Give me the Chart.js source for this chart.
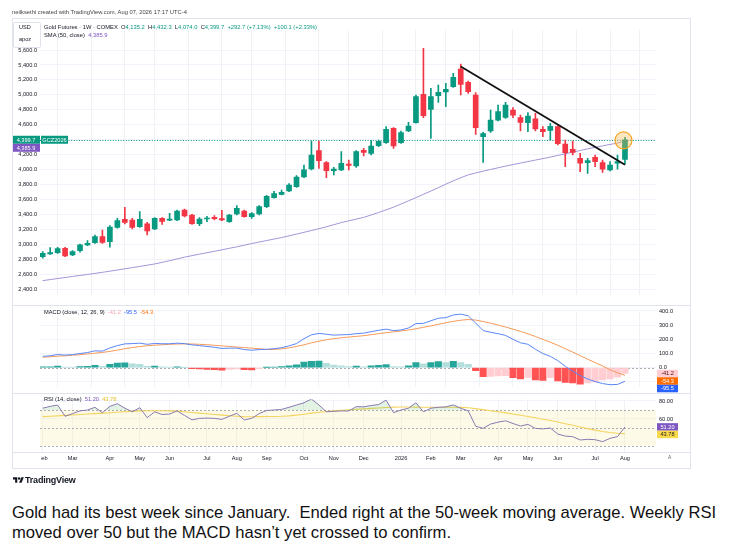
<!DOCTYPE html>
<html>
<head>
<meta charset="utf-8">
<script src="https://cdn.jsdelivr.net/npm/chart.js@4.4.1/dist/chart.umd.min.js"></script>
<style>
html,body{margin:0;padding:0;background:#fff}
body{width:753px;height:558px;position:relative;overflow:hidden;font-family:"Liberation Sans",Arial,Helvetica,sans-serif}
.t{position:absolute;white-space:pre;line-height:1}
canvas{position:absolute;left:0}
.sep{position:absolute;left:12px;width:678px;height:1px;background:#e0e3eb}
.g{color:#089981}
.k{color:#131722}
</style>
</head>
<body>
<canvas id="cp" width="753" height="285" style="top:20px"></canvas>
<canvas id="cm" width="753" height="88" style="top:305px"></canvas>
<canvas id="cr" width="753" height="75" style="top:393px"></canvas>

<div style="position:absolute;left:12px;top:18px;width:677px;height:449px;border:1px solid #e0e3eb;pointer-events:none"></div>
<div class="sep" style="top:305px"></div>
<div class="sep" style="top:393px"></div>
<div class="sep" style="top:452px"></div>
<div style="position:absolute;left:13px;top:453px;width:28px;height:12px;background:#fff"></div>

<div class="t" style="left:12px;top:10px;font-size:5.8px;color:#444">neilksethi created with TradingView.com, Aug 07, 2026 17:17 UTC-4</div>
<div style="position:absolute;left:13px;top:22px;width:26px;height:24px;border:1px solid #e0e3eb;border-radius:2px;background:#fff"></div>
<div class="t k" style="left:19px;top:25px;font-size:5.6px">USD</div>
<div class="t k" style="left:19px;top:37px;font-size:5.6px">apoz</div>
<div id="lg1" class="t k" style="left:44px;top:25px;font-size:5.8px"></div>
<div id="lg2" class="t k" style="left:44px;top:32.5px;font-size:5.8px"></div>
<div id="lg3" class="t k" style="left:44px;top:309.5px;font-size:5.7px"></div>
<div id="lg4" class="t k" style="left:44px;top:396.5px;font-size:5.7px"></div>
<div class="t" style="left:668px;top:455px;font-size:5px;color:#666">A</div>

<svg style="position:absolute;left:13px;top:476px" width="11" height="8" viewBox="0 0 36 26"><path d="M14 22H7V11H0V4h14z" fill="#131722"/><circle cx="20" cy="8" r="4" fill="#131722"/><path d="M28 22h-8l7.5-18h8z" fill="#131722"/></svg>
<div class="t" style="left:25px;top:475.5px;font-size:9px;font-weight:bold;color:#131722;letter-spacing:-0.2px">TradingView</div>

<div class="t" style="left:12px;top:502.5px;font-size:16.6px;line-height:20.5px;color:#111">Gold had its best week since January.  Ended right at the 50-week moving average. Weekly RSI
moved over 50 but the MACD hasn’t yet crossed to confirm.</div>

<script>
// ---------------- DATA ----------------
const open  = [2837,2872,2890,2948,2859,2917,2993,3024,3104,3037, 3229,3336,3327,3238,3274,3207,3349,3323,3327,3461, 3394,3278,3340,3363,3345,3305,3407,3447,3372,3407, 3505,3626,3670,3715,3773,3902,4009,4254,4094,3987, 3996,4076,4049,4258,4218,4321,4361,4553,4361,4517, 4628,5007,4807,4989,5039,5110,5346,5168,4998,4441, 4517,4660,4700,4798,4695,4628,4678,4539,4526,4575, 4343,4272,4151,4094,4165,4094,3996,4085,4135.2];
const high  = [2904,2957,2962,2962,2917,3006,3051,3126,3193,3251, 3349,3496,3349,3438,3296,3358,3358,3416,3461,3474, 3403,3358,3376,3385,3456,3403,3519,3461,3425,3519, 3657,3710,3728,3813,3920,4062,4383,4383,4107,4031, 4241,4129,4254,4285,4388,4397,4575,4562,4517,4633, 4998,5622,5087,5132,5154,5288,5413,5186,5030,4499, 4798,4865,4900,4829,4731,4762,4753,4575,4619,4588, 4397,4383,4218,4151,4196,4129,4107,4196,4432.3];
const low   = [2815,2868,2881,2837,2850,2895,2984,3015,3015,2962, 3216,3274,3207,3229,3126,3198,3269,3318,3318,3367, 3269,3251,3305,3327,3318,3296,3394,3363,3349,3394, 3492,3617,3661,3706,3764,3893,3996,4018,3893,3929, 3987,3996,4031,4183,4196,4308,4352,4285,4352,4508, 4620,4695,4419,4900,4842,5101,4998,5021,4472,4098, 4499,4651,4686,4695,4517,4508,4517,4441,4397,4330, 4040,4196,3973,3951,4040,3964,3982,4005,4074.0];
const close = [2881,2890,2944,2846,2904,2993,3015,3104,3028,3233, 3318,3296,3229,3336,3180,3349,3309,3340,3447,3381, 3278,3340,3354,3345,3327,3394,3483,3372,3412,3505, 3643,3679,3697,3795,3902,3996,4196,4120,3987,4009, 4085,4058,4241,4232,4316,4379,4539,4316,4495,4584, 4976,4722,4976,5034,5074,5234,5141,5043,4562,4481, 4664,4776,4865,4727,4633,4718,4544,4508,4580,4348, 4227,4232,4085,4120,4107,4005,4062,4107,4399.7];
const sma50 = [2516,2530,2544,2558,2572,2585,2599,2613,2627,2642, 2658,2674,2690,2706,2722,2739,2760,2783,2806,2830, 2850,2870,2889,2908,2928,2948,2968,2990,3012,3032, 3052,3072,3092,3115,3138,3162,3186,3210,3236,3264, 3292,3316,3338,3362,3394,3428,3462,3498,3540,3583, 3626,3670,3714,3760,3806,3850,3892,3930,3956,3980, 4003,4025,4047,4068,4088,4108,4128,4148,4168,4190, 4212,4234,4256,4278,4298,4318,4337,4355,4385.9];

const macdLine   = [80,84,93,89,92,100,107,119,117,139, 156,168,170,173,165,171,169,169,173,170, 161,156,150,144,136,138,138,128,123,128, 130,134,141,154,170,205,232,242,236,230, 232,234,240,244,254,264,272,262,266,280, 311,313,331,349,353,372,378,366,315,262, 250,240,228,200,176,165,130,100,80,50, 10,-25,-55,-80,-98,-112,-120,-118,-95.5];
const signalLine = [74,77,81,84,88,92,97,102,108,115, 124,134,142,149,155,159,162,165,167,168, 167,165,162,158,154,150,146,142,138,134, 128,129,133,140,150,162,175,187,197,205, 211,216,221,226,233,240,247,253,259,266, 275,285,295,306,317,327,335,340,336,326, 314,301,287,272,256,239,220,200,180,158, 134,110,85,60,36,12,-14,-36,-54.3];
const macdHist   = [6,7,12,5,4,8,10,17,9,24, 32,34,28,24,10,12,7,4,6,2, -6,-9,-12,-14,-18,-12,-8,-14,-15,-6, 2,5,8,14,20,40,45,46,30,18, 14,8,12,6,14,16,22,8,6,14, 36,28,36,43,36,45,36,24,-21,-64, -62,-58,-56,-70,-80,-68,-86,-90,-70,-94, -104,-108,-116,-108,-100,-86,-80,-66,-41.2];

const rsi   = [72,74,75.5,63,66,69,70,73,67,74, 77,72,68,72.6,61.5,68,65,65.5,69,64, 59,60.7,61,60.7,59.6,63,66.3,59,60.7,66, 69.5,70,70.7,73,75.6,78,82.2,75.6,68,68.5, 69,68.9,73.7,73.5,75,76,81,67,70,72, 78,68,72,73,73.5,75.6,72,69,52,49.6, 54.4,56.5,58,55,52.2,54,49.6,49,50,43.3, 41,40.4,36.7,37.4,37,34.8,38.5,40.4,51.2];
const rsiMA = [62.6,63,63.5,64,64.5,65,65.5,66,66.5,67, 67.5,68,68.5,69,69.2,69.2,69.2,69,68.7,68, 67.3,66.5,65.8,65,64.3,63.6,63,62.6,62.5,62.6, 62.7,62.8,63,63.5,64.3,65.3,66.5,67.5,68.3,69, 69.6,70.2,70.8,71.3,71.8,72.3,72.8,73.2,73.4,73.3, 73.2,73.1,73,73,73,73,72.9,72.5,71.5,70.4, 69.2,68,66.8,65.5,64.2,62.8,61.3,59.8,58.3,56.6, 54.8,53,51.1,49.3,47.6,46.2,45,44.2,43.78];

const monthTickIdx    = [0,4,9,13,17,22,26,30,35,39,43,48,52,56,61,65,69,74,78];
const monthTickLabels = ['Feb','Mar','Apr','May','Jun','Jul','Aug','Sep','Oct','Nov','Dec','2026','Feb','Mar','Apr','May','Jun','Jul','Aug'];
const priceTicks = [2400,2600,2800,3000,3200,3400,3600,3800,4000,4200,4400,4600,4800,5000,5200,5400,5600];
const macdTicks  = [-100,0,100,200,300,400];
const rsiTicks   = [60,80];
const rsiLevels  = [70,50,30];
const trendX = [56,78];
const trendY = [5380,4065];
const markX = [77.8];
const markY = [4392];
const contract = 'GCZ2026';

// ---------------- LAYOUT / STYLE ----------------
const X0 = 42.7, DX = 7.465;
const FONT = '"Liberation Sans", Arial, sans-serif';
Chart.defaults.font.family = FONT;
Chart.defaults.font.size = 5.6;
Chart.defaults.color = '#131722';
const UP = '#089981', DN = '#F23645';
const idx = close.map((_, i) => i);
const candleColor = idx.map(i => close[i] >= open[i] ? UP : DN);
const histColor = macdHist.map((h, i) => {
  const p = i > 0 ? macdHist[i - 1] : h;
  return h >= 0 ? (h >= p ? '#26A69A' : '#B2DFDB') : (h < p ? '#FF5252' : '#FFCDD2');
});
const f1 = v => v.toLocaleString('en-US', {minimumFractionDigits:1, maximumFractionDigits:1});
const last = a => a[a.length - 1];

function xAxis(showLabels) {
  return {
    type:'linear', min:(40 - X0) / DX, max:(656 - X0) / DX, offset:false,
    grid:{color:'#eef1f6', drawTicks:false},
    border:{display:false},
    ticks:{display:showLabels, autoSkip:false, maxRotation:0, padding:3, color:'#131722',
      callback:(v, i) => monthTickLabels[i]},
    afterBuildTicks:s => { s.ticks = monthTickIdx.map(v => ({value:v})); },
    afterFit:s => { s.height = showLabels ? 16 : 0; }
  };
}
function yAxis(pos, ticks, fmt, width) {
  return {
    position:pos,
    grid:{color:'#f0f3fa', drawTicks:false},
    border:{display:false},
    ticks:{padding:3, color:'#131722', callback:fmt},
    afterBuildTicks:s => { s.ticks = ticks.map(v => ({value:v})); },
    afterFit:s => { s.width = width; }
  };
}
function drawBoxes(c, items, x, w, h) {
  const y = c.scales.y, ctx = c.ctx;
  const list = items.map(it => Object.assign({}, it, {p:y.getPixelForValue(it.v)})).sort((a, b) => a.p - b.p);
  let prev = -1e9;
  ctx.save();
  ctx.font = '5.6px ' + FONT; ctx.textBaseline = 'middle'; ctx.textAlign = 'center';
  list.forEach(it => {
    const p = Math.max(it.p, prev + h); prev = p;
    ctx.fillStyle = it.bg; ctx.fillRect(x, p - h / 2, w, h);
    ctx.fillStyle = it.fg; ctx.fillText(it.text, x + w / 2, p + 0.4);
  });
  ctx.restore();
}
function hline(c, v, color, dash, lw) {
  const {ctx, chartArea:a, scales:{y}} = c;
  const yy = Math.round(y.getPixelForValue(v)) + 0.5;
  ctx.save(); ctx.strokeStyle = color; ctx.lineWidth = lw; ctx.setLineDash(dash);
  ctx.beginPath(); ctx.moveTo(a.left, yy); ctx.lineTo(a.right, yy); ctx.stroke(); ctx.restore();
}
function calibrate(chart, top, v1, p1, v2, p2) {
  const a = chart.chartArea, o = chart.options.scales;
  o.x.min = (a.left - X0) / DX; o.x.max = (a.right - X0) / DX;
  const k = (p2 - p1) / (v1 - v2);
  o.y.max = v1 + (p1 - (top + a.top)) / k;
  o.y.min = v2 - ((top + a.bottom) - p2) / k;
  chart.update('none');
}
const base = {responsive:false, animation:false, events:[], plugins:{legend:{display:false}, tooltip:{enabled:false}}};

// ---------------- PRICE ----------------
const pricePlug = {
  id:'pricePlug',
  beforeDatasetsDraw(c) { hline(c, last(close), UP, [1, 1.6], 1); },
  afterDraw(c) {
    const lc = last(close);
    drawBoxes(c, [
      {v:lc, bg:UP, fg:'#fff', text:f1(lc)},
      {v:last(sma50), bg:'#7E57C2', fg:'#fff', text:f1(last(sma50))}
    ], 12, 28, 8);
    drawBoxes(c, [{v:lc, bg:UP, fg:'#fff', text:contract}], 41, 27, 8);
  }
};
const cp = new Chart(document.getElementById('cp'), {
  type:'bar',
  data:{datasets:[
    {type:'line', data:markX.map((x, i) => ({x, y:markY[i]})), showLine:false, pointRadius:8.5,
      pointBackgroundColor:'rgba(255,183,77,0.35)', pointBorderColor:'#f5a623', pointBorderWidth:1.2, order:0},
    {type:'line', data:trendX.map((x, i) => ({x, y:trendY[i]})), borderColor:'#111', borderWidth:1.8, pointRadius:0, order:1},
    {data:idx.map(i => ({x:i, y:[open[i], close[i]]})), backgroundColor:candleColor, barThickness:5, minBarLength:1, grouped:false, order:2},
    {data:idx.map(i => ({x:i, y:[low[i], high[i]]})), backgroundColor:candleColor, barThickness:1, grouped:false, order:3},
    {type:'line', data:idx.map(i => ({x:i, y:sma50[i]})), borderColor:'#a594d8', borderWidth:1, pointRadius:0, order:4}
  ]},
  options:Object.assign({}, base, {
    layout:{padding:{left:12, right:97, top:0, bottom:0}},
    scales:{x:xAxis(false), y:Object.assign(yAxis('left', priceTicks, v => f1(v), 28), {min:2190, max:6001})}
  }),
  plugins:[pricePlug]
});
calibrate(cp, 20, 5600, 50, 2400, 289.3);

// ---------------- MACD ----------------
const macdPlug = {
  id:'macdPlug',
  beforeDatasetsDraw(c) { hline(c, 0, '#9598a1', [2, 2], 0.8); },
  afterDraw(c) {
    drawBoxes(c, [
      {v:last(macdHist), bg:'#FFCDD2', fg:'#4a1010', text:last(macdHist).toFixed(1)},
      {v:last(signalLine), bg:'#FF6D00', fg:'#fff', text:last(signalLine).toFixed(1)},
      {v:last(macdLine), bg:'#2962FF', fg:'#fff', text:last(macdLine).toFixed(1)}
    ], 657, 21, 7.5);
  }
};
const cm = new Chart(document.getElementById('cm'), {
  type:'bar',
  data:{datasets:[
    {type:'line', data:idx.map(i => ({x:i, y:macdLine[i]})), borderColor:'#5a86f5', borderWidth:1, pointRadius:0, order:0},
    {type:'line', data:idx.map(i => ({x:i, y:signalLine[i]})), borderColor:'#f79a58', borderWidth:1, pointRadius:0, order:1},
    {data:idx.map(i => ({x:i, y:macdHist[i]})), backgroundColor:histColor, barThickness:6.4, grouped:false, order:2}
  ]},
  options:Object.assign({}, base, {
    layout:{padding:{left:40, right:67, top:0, bottom:0}},
    scales:{x:xAxis(false), y:Object.assign(yAxis('right', macdTicks, v => v < 0 ? '' : v.toFixed(1), 30), {min:-178, max:448})}
  }),
  plugins:[macdPlug]
});
calibrate(cm, 305, 400, 311, 0, 367.7);

// ---------------- RSI ----------------
const rsiPlug = {
  id:'rsiPlug',
  beforeDatasetsDraw(c) {
    const {ctx, chartArea:a, scales:{y}} = c;
    const yt = y.getPixelForValue(rsiLevels[0]), yb = y.getPixelForValue(rsiLevels[2]);
    ctx.save(); ctx.fillStyle = 'rgba(250,238,180,0.32)'; ctx.fillRect(a.left, yt, a.right - a.left, yb - yt); ctx.restore();
    rsiLevels.forEach(v => hline(c, v, '#9598a1', [2, 2], 0.8));
  },
  afterDraw(c) {
    drawBoxes(c, [
      {v:last(rsi), bg:'#7E57C2', fg:'#fff', text:last(rsi).toFixed(2)},
      {v:last(rsiMA), bg:'#F9D949', fg:'#222', text:last(rsiMA).toFixed(2)}
    ], 657, 21, 7.5);
  }
};
const cr = new Chart(document.getElementById('cr'), {
  type:'line',
  data:{datasets:[
    {data:idx.map(i => ({x:i, y:rsi[i]})), borderColor:'#8a7bb2', borderWidth:1, pointRadius:0,
      fill:{target:{value:70}, above:'rgba(76,175,80,0.16)', below:'rgba(0,0,0,0)'}, order:0},
    {data:idx.map(i => ({x:i, y:rsiMA[i]})), borderColor:'#f4d35e', borderWidth:1.1, pointRadius:0, order:1}
  ]},
  options:Object.assign({}, base, {
    layout:{padding:{left:40, right:67, top:0, bottom:0}},
    scales:{x:xAxis(true), y:Object.assign(yAxis('right', rsiTicks, v => v.toFixed(2), 30), {min:23, max:89})}
  }),
  plugins:[rsiPlug]
});
calibrate(cr, 393, 80, 401, 60, 419);

// ---------------- LEGENDS ----------------
const n = close.length;
const chg = close[n - 1] - close[n - 2];
const pct = chg / close[n - 2] * 100;
document.getElementById('lg1').innerHTML =
  'Gold Futures · 1W · COMEX  O<span class="g">' + f1(open[n-1]) + '</span>  H<span class="g">' + f1(high[n-1]) +
  '</span>  L<span class="g">' + f1(low[n-1]) + '</span>  C<span class="g">' + f1(close[n-1]) +
  '</span>  <span class="g">+' + chg.toFixed(1) + ' (+' + pct.toFixed(2) + '%)</span>  <span class="g">+100.1 (+2.33%)</span>';
document.getElementById('lg2').innerHTML = 'SMA (50, close)  <span style="color:#7E57C2">' + f1(last(sma50)) + '</span>';
document.getElementById('lg3').innerHTML = 'MACD (close, 12, 26, 9)  <span style="color:#f4a4ad">' + last(macdHist).toFixed(1) +
  '</span>  <span style="color:#2962FF">' + last(macdLine).toFixed(1) + '</span>  <span style="color:#FF6D00">' + last(signalLine).toFixed(1) + '</span>';
document.getElementById('lg4').innerHTML = 'RSI (14, close)  <span style="color:#7E57C2">' + last(rsi).toFixed(2) +
  '</span>  <span style="color:#e5c12e">' + last(rsiMA).toFixed(2) + '</span>';
</script>
</body>
</html>
